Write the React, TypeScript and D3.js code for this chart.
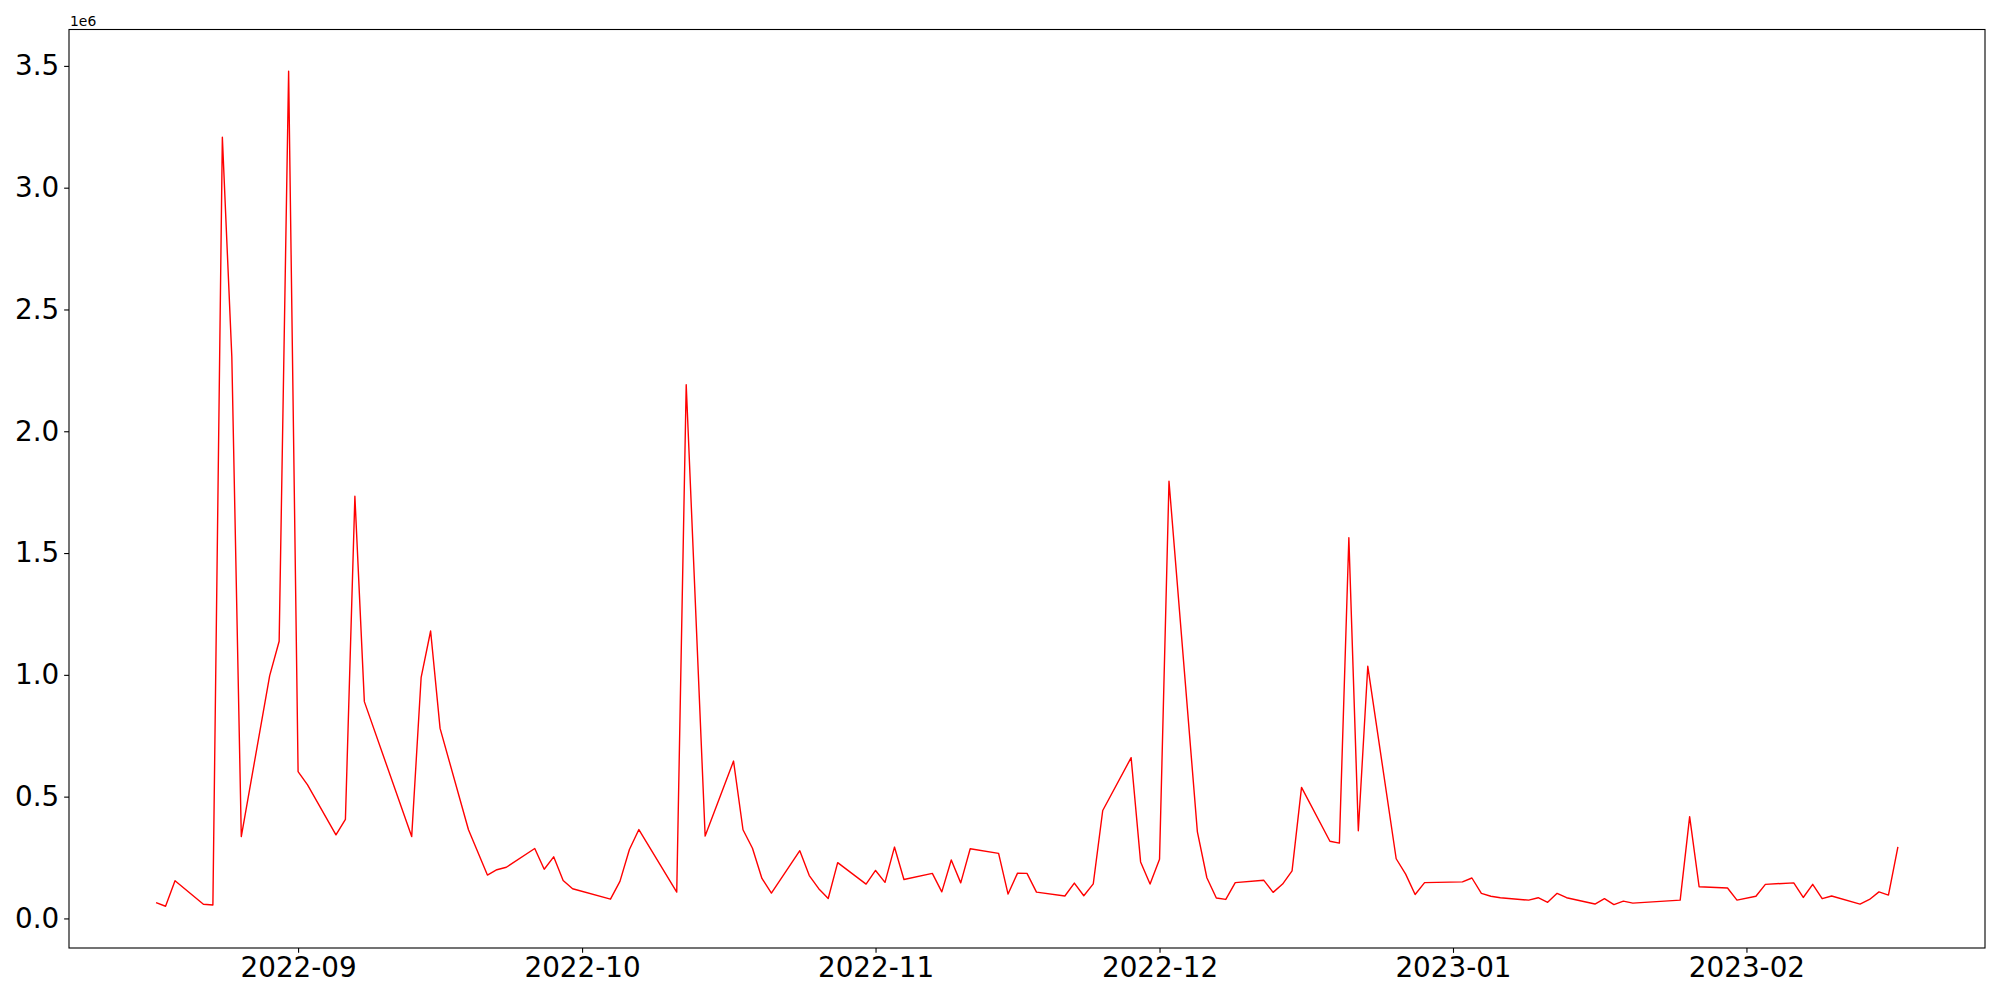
import React, { useEffect, useRef } from "react";
import * as d3 from "d3";

const dates = [
  "2022-08-17", "2022-08-18", "2022-08-19", "2022-08-22", "2022-08-23", "2022-08-24", "2022-08-25", "2022-08-26",
  "2022-08-29", "2022-08-30", "2022-08-31", "2022-09-01", "2022-09-02", "2022-09-05", "2022-09-06", "2022-09-07",
  "2022-09-08", "2022-09-13", "2022-09-14", "2022-09-15", "2022-09-16", "2022-09-19", "2022-09-21", "2022-09-22",
  "2022-09-23", "2022-09-26", "2022-09-27", "2022-09-28", "2022-09-29", "2022-09-30", "2022-10-04", "2022-10-05",
  "2022-10-06", "2022-10-07", "2022-10-11", "2022-10-12", "2022-10-14", "2022-10-17", "2022-10-18", "2022-10-19",
  "2022-10-20", "2022-10-21", "2022-10-24", "2022-10-25", "2022-10-26", "2022-10-27", "2022-10-28", "2022-10-31",
  "2022-11-01", "2022-11-02", "2022-11-03", "2022-11-04", "2022-11-07", "2022-11-08", "2022-11-09", "2022-11-10",
  "2022-11-11", "2022-11-14", "2022-11-15", "2022-11-16", "2022-11-17", "2022-11-18", "2022-11-21", "2022-11-22",
  "2022-11-23", "2022-11-24", "2022-11-25", "2022-11-28", "2022-11-29", "2022-11-30", "2022-12-01", "2022-12-02",
  "2022-12-05", "2022-12-06", "2022-12-07", "2022-12-08", "2022-12-09", "2022-12-12", "2022-12-13", "2022-12-14",
  "2022-12-15", "2022-12-16", "2022-12-19", "2022-12-20", "2022-12-21", "2022-12-22", "2022-12-23", "2022-12-26",
  "2022-12-27", "2022-12-28", "2022-12-29", "2023-01-02", "2023-01-03", "2023-01-04", "2023-01-05", "2023-01-06",
  "2023-01-09", "2023-01-10", "2023-01-11", "2023-01-12", "2023-01-13", "2023-01-16", "2023-01-17", "2023-01-18",
  "2023-01-19", "2023-01-20", "2023-01-25", "2023-01-26", "2023-01-27", "2023-01-30", "2023-01-31", "2023-02-02",
  "2023-02-03", "2023-02-06", "2023-02-07", "2023-02-08", "2023-02-09", "2023-02-10", "2023-02-13", "2023-02-14",
  "2023-02-15", "2023-02-16", "2023-02-17",
];

const values = [
  65000, 50000, 155000, 58000, 55000, 3207000, 2306000, 336000,
  997000, 1138000, 3478000, 603000, 548000, 343000, 407000, 1733000,
  890000, 336000, 990000, 1180000, 780000, 364000, 178000, 200000,
  210000, 287000, 202000, 253000, 156000, 122000, 79000, 152000,
  283000, 365000, 108000, 2191000, 338000, 646000, 364000, 288000,
  164000, 104000, 278000, 176000, 122000, 82000, 229000, 141000,
  197000, 148000, 293000, 160000, 185000, 109000, 240000, 146000,
  286000, 267000, 100000, 186000, 185000, 108000, 92000, 145000,
  93000, 142000, 443000, 660000, 232000, 141000, 243000, 1795000,
  355000, 167000, 84000, 78000, 147000, 157000, 107000, 141000,
  195000, 538000, 317000, 309000, 1563000, 360000, 1035000, 245000,
  182000, 98000, 147000, 150000, 166000, 103000, 91000, 85000,
  75000, 85000, 66000, 103000, 85000, 59000, 81000, 57000,
  71000, 63000, 75000, 418000, 130000, 125000, 75000, 91000,
  140000, 146000, 86000, 140000, 81000, 92000, 59000, 78000,
  109000, 96000, 294000,
];

const yTicks = [0, 500000, 1000000, 1500000, 2000000, 2500000, 3000000, 3500000];

const LineChart = () => {
  const chartRef = useRef(null);

  useEffect(() => {
    const svg = d3.select(chartRef.current);
    svg.selectAll("*").remove();

    const left = 69;
    const right = 1985;
    const top = 29.5;
    const bottom = 948;
    const font = "'DejaVu Sans', sans-serif";
    const tick = 4.86;

    const parse = d3.utcParse("%Y-%m-%d");
    const data = dates.map((d, i) => ({ date: parse(d), value: values[i] }));

    // matplotlib-style 5% margins on both axes
    const [t0, t1] = d3.extent(data, (d) => d.date.getTime());
    const tPad = (t1 - t0) * 0.05;
    const xScale = d3
      .scaleUtc()
      .domain([new Date(t0 - tPad), new Date(t1 + tPad)])
      .range([left, right]);

    const [v0, v1] = d3.extent(values);
    const vPad = (v1 - v0) * 0.05;
    const yScale = d3
      .scaleLinear()
      .domain([v0 - vPad, v1 + vPad])
      .range([bottom, top]);

    const xAxis = d3
      .axisBottom(xScale)
      .tickValues(d3.utcMonth.range(xScale.domain()[0], xScale.domain()[1]))
      .tickFormat(d3.utcFormat("%Y-%m"))
      .tickSize(tick)
      .tickPadding(tick);

    const yAxis = d3
      .axisLeft(yScale)
      .tickValues(yTicks)
      .tickFormat((d) => (d / 1e6).toFixed(1))
      .tickSize(tick)
      .tickPadding(tick);

    const gx = svg
      .append("g")
      .attr("transform", `translate(0, ${bottom})`)
      .call(xAxis);
    const gy = svg
      .append("g")
      .attr("transform", `translate(${left}, 0)`)
      .call(yAxis);

    [gx, gy].forEach((g) => {
      g.select(".domain").remove();
      g.attr("font-family", font).attr("font-size", 27.8);
      g.selectAll("line").attr("stroke", "#000").attr("stroke-width", 1.1);
      g.selectAll("text").attr("fill", "#000");
    });

    const line = d3
      .line()
      .x((d) => xScale(d.date))
      .y((d) => yScale(d.value));

    svg
      .append("path")
      .datum(data)
      .attr("d", line)
      .attr("fill", "none")
      .attr("stroke", "red")
      .attr("stroke-width", 1.4)
      .attr("stroke-linejoin", "round");

    svg
      .append("rect")
      .attr("x", left)
      .attr("y", top)
      .attr("width", right - left)
      .attr("height", bottom - top)
      .attr("fill", "none")
      .attr("stroke", "#000")
      .attr("stroke-width", 1.1);

    svg
      .append("text")
      .attr("x", left + 1)
      .attr("y", top - 4)
      .attr("font-family", font)
      .attr("font-size", 13.9)
      .text("1e6");
  }, []);

  return (
    <svg
      ref={chartRef}
      width="2000"
      height="1000"
      style={{ position: "absolute", left: 0, top: 0, background: "#fff" }}
    ></svg>
  );
};

export default function App() {
  return <LineChart />;
}
